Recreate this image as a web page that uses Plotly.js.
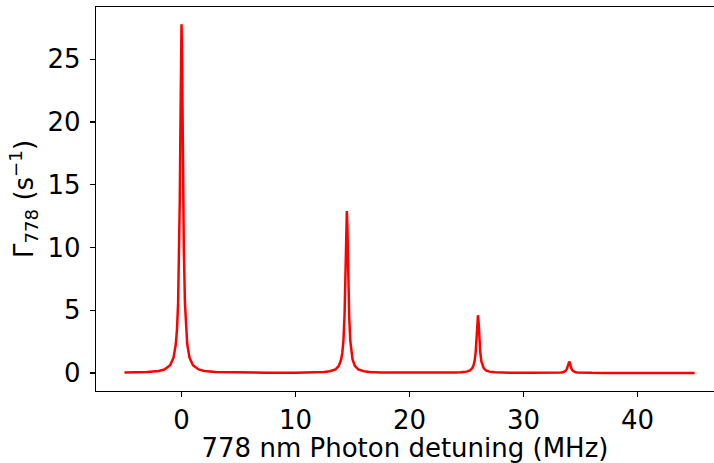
<!DOCTYPE html>
<html>
<head>
<meta charset="utf-8">
<script src="https://cdn.plot.ly/plotly-3.0.1.min.js"></script>
<style>html,body{margin:0;padding:0;overflow:hidden;background:#fff}</style>
</head>
<body>
<div id="chart" style="width:714px;height:463px"></div>
<script>
// 778 nm photon detuning (MHz)
const detuning = [-5, -4, -3, -2, -1.5, -1, -0.7, -0.5, -0.4, -0.3, -0.2, -0.15, -0.1, -0.05, 0, 0.05, 0.1, 0.15, 0.2, 0.3, 0.4, 0.5, 0.7, 1, 1.5, 2, 3, 5, 7.5, 10, 11.5, 12.5, 13, 13.5, 13.8, 14, 14.1, 14.2, 14.3, 14.35, 14.4, 14.45, 14.5, 14.55, 14.6, 14.65, 14.7, 14.8, 14.9, 15, 15.2, 15.5, 16, 16.5, 17.5, 20, 22, 23, 24, 24.5, 25, 25.3, 25.5, 25.6, 25.7, 25.8, 25.85, 25.9, 25.95, 26, 26.05, 26.1, 26.15, 26.2, 26.3, 26.4, 26.5, 26.7, 27, 27.5, 28, 29, 30.5, 31, 32, 32.5, 33, 33.3, 33.5, 33.6, 33.7, 33.8, 33.85, 33.9, 33.95, 34, 34.05, 34.1, 34.15, 34.2, 34.3, 34.4, 34.5, 34.7, 35, 35.5, 36, 37, 40, 45];
// Gamma_778 (s^-1)
const gamma778 = [0.025, 0.039, 0.069, 0.155, 0.275, 0.612, 1.22, 2.30, 3.43, 5.56, 10.01, 13.9, 19.25, 25.02, 27.8, 25.02, 19.25, 13.9, 10.01, 5.56, 3.43, 2.30, 1.22, 0.612, 0.276, 0.157, 0.071, 0.028, 0.017, 0.021, 0.037, 0.076, 0.132, 0.288, 0.569, 1.068, 1.593, 2.58, 4.64, 6.45, 8.93, 11.61, 12.9, 11.61, 8.93, 6.45, 4.64, 2.58, 1.593, 1.067, 0.568, 0.286, 0.130, 0.074, 0.035, 0.014, 0.013, 0.017, 0.030, 0.050, 0.105, 0.205, 0.383, 0.570, 0.923, 1.659, 2.303, 3.18, 4.14, 4.6, 4.14, 3.18, 2.303, 1.659, 0.923, 0.570, 0.383, 0.205, 0.104, 0.049, 0.029, 0.014, 0.008, 0.007, 0.009, 0.012, 0.023, 0.043, 0.077, 0.114, 0.183, 0.327, 0.453, 0.626, 0.813, 0.903, 0.813, 0.626, 0.453, 0.327, 0.183, 0.114, 0.077, 0.043, 0.022, 0.011, 0.007, 0.004, 0.002, 0.0015];
const xTicks = [0, 10, 20, 30, 40];
const yTicks = [0, 5, 10, 15, 20, 25];

const font = {family: 'DejaVu Sans', size: 26, color: '#000'};
Plotly.newPlot('chart', [{
  x: detuning, y: gamma778, type: 'scatter', mode: 'lines',
  line: {color: '#ff0000', width: 2.5}, hoverinfo: 'none'
}], {
  width: 714, height: 463,
  margin: {l: 96, r: 0, t: 7, b: 72, pad: 0},
  paper_bgcolor: '#fff', plot_bgcolor: '#fff',
  showlegend: false,
  font: font,
  xaxis: {
    range: [-7.5, 46.7], tickvals: xTicks, ticktext: xTicks.map(String),
    showgrid: false, zeroline: false, showline: true, mirror: true,
    linecolor: '#000', linewidth: 1.3, ticks: 'outside', ticklen: 5, tickwidth: 1.3, tickcolor: '#000',
    tickfont: font,
    title: {text: '778 nm Photon detuning (MHz)', font: font, standoff: 3}
  },
  yaxis: {
    range: [-1.44, 29.17], tickvals: yTicks, ticktext: yTicks.map(String),
    showgrid: false, zeroline: false, showline: true, mirror: false,
    linecolor: '#000', linewidth: 1.3, ticks: 'outside', ticklen: 5, tickwidth: 1.3, tickcolor: '#000',
    tickfont: font, ticklabelstandoff: 4,
    title: {text: 'Γ<sub>778</sub> (s<sup>−1</sup>)', font: font, standoff: 6}
  }
}, {displayModeBar: false, staticPlot: true});
</script>
</body>
</html>
